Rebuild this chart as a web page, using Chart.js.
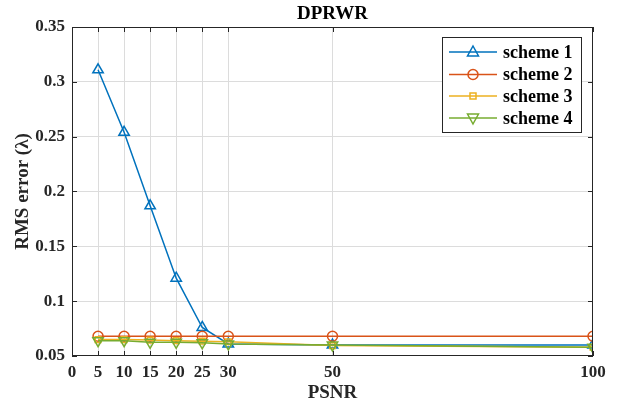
<!DOCTYPE html>
<html>
<head>
<meta charset="utf-8">
<script src="https://cdn.jsdelivr.net/npm/chart.js"></script>
<style>
  body { margin: 0; background: #fff; }
</style>
</head>
<body>
<canvas id="rmsChart" width="625" height="406"></canvas>
<script>
  // data
  var psnr = [5, 10, 15, 20, 25, 30, 50, 100];
  var scheme1 = [0.311, 0.254, 0.187, 0.121, 0.076, 0.061, 0.060, 0.060];
  var scheme2 = [0.068, 0.068, 0.068, 0.068, 0.068, 0.068, 0.068, 0.068];
  var scheme3 = [0.065, 0.065, 0.0645, 0.064, 0.0635, 0.063, 0.0595, 0.058];
  var scheme4 = [0.064, 0.064, 0.0625, 0.0625, 0.062, 0.061, 0.060, 0.058];
  var xTicks = [0, 5, 10, 15, 20, 25, 30, 50, 100];
  var yTicks = [0.05, 0.1, 0.15, 0.2, 0.25, 0.3, 0.35];
  var names = ['scheme 1', 'scheme 2', 'scheme 3', 'scheme 4'];

  var colors = ['#0072BD', '#D95319', '#EDB120', '#77AC30'];
  var serif = '"Liberation Serif", "DejaVu Serif", serif';
  var axisColor = '#262626';

  function pts(ys) {
    return psnr.map(function(x, i) { return { x: x, y: ys[i] }; });
  }

  function marker(ctx, style, x, y) {
    ctx.beginPath();
    if (style === 'up') {
      ctx.moveTo(x, y - 6); ctx.lineTo(x + 5.5, y + 4); ctx.lineTo(x - 5.5, y + 4); ctx.closePath();
    } else if (style === 'down') {
      ctx.moveTo(x, y + 6); ctx.lineTo(x + 5.5, y - 4); ctx.lineTo(x - 5.5, y - 4); ctx.closePath();
    } else if (style === 'circle') {
      ctx.arc(x, y, 5, 0, Math.PI * 2);
    } else {
      ctx.rect(x - 3, y - 3, 6, 6);
    }
    ctx.stroke();
  }

  var decor = {
    id: 'decor',
    afterDraw: function(chart) {
      var ctx = chart.ctx;
      var a = chart.chartArea;
      var xs = chart.scales.x, ys = chart.scales.y;
      ctx.save();
      // box + inward ticks
      ctx.strokeStyle = axisColor;
      ctx.lineWidth = 1;
      ctx.strokeRect(a.left + 0.5, a.top + 0.5, a.right - a.left - 1, a.bottom - a.top - 1);
      ctx.beginPath();
      xTicks.forEach(function(v) {
        var px = Math.round(xs.getPixelForValue(v)) + 0.5;
        ctx.moveTo(px, a.bottom); ctx.lineTo(px, a.bottom - 5);
        ctx.moveTo(px, a.top); ctx.lineTo(px, a.top + 5);
      });
      yTicks.forEach(function(v) {
        var py = Math.round(ys.getPixelForValue(v)) + 0.5;
        ctx.moveTo(a.left, py); ctx.lineTo(a.left + 5, py);
        ctx.moveTo(a.right, py); ctx.lineTo(a.right - 5, py);
      });
      ctx.stroke();

      // title
      ctx.fillStyle = '#000';
      ctx.font = 'bold 19px ' + serif;
      ctx.textAlign = 'center';
      ctx.textBaseline = 'middle';
      ctx.fillText('DPRWR', (a.left + a.right) / 2, 14);

      // legend
      var lx = 442, ly = 37, lw = 139, lh = 95;
      ctx.fillStyle = '#fff';
      ctx.fillRect(lx, ly, lw, lh);
      ctx.strokeStyle = axisColor;
      ctx.strokeRect(lx + 0.5, ly + 0.5, lw, lh);
      var rows = [52, 74.5, 96, 118];
      var styles = ['up', 'circle', 'square', 'down'];
      ctx.font = 'bold 18px ' + serif;
      ctx.textAlign = 'left';
      for (var i = 0; i < 4; i++) {
        ctx.strokeStyle = colors[i];
        ctx.lineWidth = 1.5;
        ctx.beginPath();
        ctx.moveTo(449, rows[i]); ctx.lineTo(497, rows[i]);
        ctx.stroke();
        marker(ctx, styles[i], 473, rows[i]);
        ctx.fillStyle = '#000';
        ctx.fillText(names[i], 503, rows[i] + 1);
      }
      ctx.restore();
    }
  };

  function ds(label, data, color, style, rot, radius, order) {
    return {
      label: label,
      data: pts(data),
      borderColor: color,
      backgroundColor: color,
      borderWidth: 1.5,
      pointStyle: style,
      pointRotation: rot,
      pointRadius: radius,
      pointBorderWidth: 1.5,
      pointBorderColor: color,
      pointBackgroundColor: 'rgba(0,0,0,0)',
      tension: 0,
      order: order
    };
  }

  var ctx = document.getElementById('rmsChart').getContext('2d');
  var rmsChart = new Chart(ctx, {
    type: 'line',
    data: {
      datasets: [
        ds(names[0], scheme1, colors[0], 'triangle', 0, 6, 4),
        ds(names[1], scheme2, colors[1], 'circle', 0, 5, 3),
        ds(names[2], scheme3, colors[2], 'rect', 0, 4, 2),
        ds(names[3], scheme4, colors[3], 'triangle', 180, 6, 1)
      ]
    },
    options: {
      responsive: false,
      animation: false,
      layout: { padding: { left: 12, right: 32, top: 27, bottom: 0 } },
      plugins: {
        legend: { display: false },
        tooltip: { enabled: false }
      },
      scales: {
        x: {
          type: 'linear',
          min: 0,
          max: 100,
          afterBuildTicks: function(scale) {
            scale.ticks = xTicks.map(function(v) { return { value: v }; });
          },
          afterFit: function(scale) { scale.height = 50; },
          grid: {
            drawTicks: false,
            color: function(c) {
              var v = c.tick ? c.tick.value : 0;
              return (v === 0 || v === 100) ? 'rgba(0,0,0,0)' : '#dcdcdc';
            }
          },
          border: { display: false },
          ticks: {
            autoSkip: false,
            maxRotation: 0,
            padding: 6,
            color: axisColor,
            font: { family: serif, size: 17, weight: 'bold' }
          },
          title: {
            display: true,
            text: 'PSNR',
            color: axisColor,
            padding: { top: 0, bottom: 2 },
            font: { family: serif, size: 19, weight: 'bold' }
          }
        },
        y: {
          min: 0.05,
          max: 0.35,
          afterBuildTicks: function(scale) {
            scale.ticks = yTicks.map(function(v) { return { value: v }; });
          },
          afterFit: function(scale) { scale.width = 60; },
          grid: {
            drawTicks: false,
            color: function(c) {
              var v = c.tick ? c.tick.value : 0;
              return (v === 0.05 || v === 0.35) ? 'rgba(0,0,0,0)' : '#dcdcdc';
            }
          },
          border: { display: false },
          ticks: {
            padding: 7,
            color: axisColor,
            font: { family: serif, size: 17, weight: 'bold' },
            callback: function(v) { return String(parseFloat(Number(v).toFixed(2))); }
          },
          title: {
            display: true,
            text: 'RMS error (\u03bb)',
            color: axisColor,
            padding: { top: 0, bottom: 0 },
            font: { family: serif, size: 19, weight: 'bold' }
          }
        }
      }
    },
    plugins: [decor]
  });
</script>
</body>
</html>
